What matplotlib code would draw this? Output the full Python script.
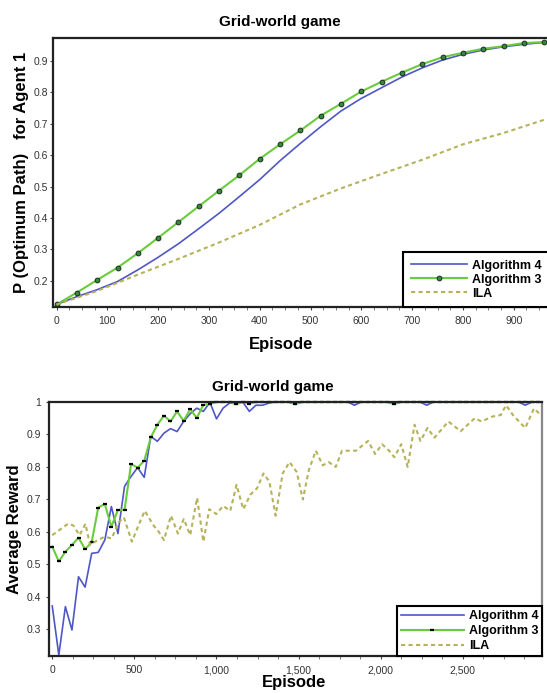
import numpy as np
import matplotlib
matplotlib.use('Agg')
import matplotlib.pyplot as plt
from matplotlib.ticker import MultipleLocator, FuncFormatter

plt.rcParams['font.family'] = ['Liberation Sans', 'DejaVu Sans']

BLUE = '#4f57c4'
GREEN = '#6acc3c'
OLIVE = '#b6b25a'

# ---- top panel: P(optimum path) for agent 1 ----
top_ep_alg3 = [0, 40, 80, 120, 160, 200, 240, 280, 320, 360, 400, 440, 480,
               520, 560, 600, 640, 680, 720, 760, 800, 840, 880, 920, 960]
top_alg3 = [0.125, 0.163, 0.203, 0.242, 0.288, 0.337, 0.387, 0.437, 0.487,
            0.536, 0.588, 0.634, 0.678, 0.725, 0.763, 0.802, 0.833, 0.862,
            0.889, 0.911, 0.925, 0.938, 0.946, 0.956, 0.959]
top_ep_alg4 = top_ep_alg3
top_alg4 = [0.125, 0.150, 0.172, 0.198, 0.235, 0.275, 0.318, 0.366, 0.415,
            0.468, 0.522, 0.582, 0.637, 0.690, 0.740, 0.780, 0.814, 0.848,
            0.877, 0.902, 0.920, 0.934, 0.944, 0.952, 0.958]
top_ep_ila = [0, 80, 160, 240, 320, 400, 480, 560, 640, 720, 800, 880, 960]
top_ila = [0.125, 0.168, 0.220, 0.270, 0.322, 0.378, 0.443, 0.494, 0.540,
           0.585, 0.634, 0.670, 0.712]

# ---- bottom panel: average reward ----
bot_ep = list(range(0, 2961, 40))
bot_alg3 = [0.555, 0.509, 0.539, 0.560, 0.582, 0.547, 0.568, 0.675, 0.686,
            0.616, 0.668, 0.668, 0.809, 0.798, 0.819, 0.891, 0.930, 0.958,
            0.940, 0.971, 0.942, 0.978, 0.951, 0.991, 0.994, 1.0, 1.0, 1.0,
            0.993, 1.0, 0.995, 1.0, 1.0, 1.0, 1.0, 1.0, 1.0, 0.993, 1.0, 1.0,
            1.0, 1.0, 1.0, 1.0, 1.0, 1.0, 1.0, 1.0, 1.0, 1.0, 1.0, 1.0,
            0.993, 1.0, 1.0, 1.0, 1.0, 1.0, 1.0, 1.0, 1.0, 1.0, 1.0, 1.0,
            1.0, 1.0, 1.0, 1.0, 1.0, 1.0, 1.0, 1.0, 1.0, 1.0, 1.0]
bot_alg4 = [0.372, 0.221, 0.370, 0.298, 0.462, 0.430, 0.534, 0.537, 0.575,
            0.678, 0.595, 0.740, 0.771, 0.798, 0.768, 0.894, 0.879, 0.904,
            0.918, 0.909, 0.940, 0.964, 0.981, 0.971, 0.999, 0.948, 0.981,
            0.997, 1.0, 1.0, 0.971, 0.990, 0.990, 0.997, 1.0, 1.0, 1.0, 0.995,
            1.0, 1.0, 1.0, 1.0, 1.0, 1.0, 1.0, 1.0, 0.990, 1.0, 1.0, 1.0,
            1.0, 1.0, 0.995, 1.0, 1.0, 1.0, 1.0, 0.990, 1.0, 1.0, 1.0, 1.0,
            1.0, 1.0, 1.0, 1.0, 1.0, 1.0, 1.0, 1.0, 1.0, 1.0, 0.990, 1.0, 1.0]
bot_ep_ila = [0, 96, 128, 166, 202, 230, 277, 319, 362, 404, 436, 485, 521,
              563, 617, 649, 680, 723, 765, 801, 840, 882, 920, 956, 999,
              1041, 1084, 1122, 1163, 1207, 1248, 1286, 1322, 1360, 1403,
              1445, 1488, 1526, 1562, 1605, 1647, 1683, 1726, 1764, 1849,
              1923, 1966, 2008, 2051, 2083, 2125, 2164, 2206, 2242, 2285,
              2327, 2412, 2487, 2572, 2614, 2678, 2731, 2763, 2805, 2880,
              2933, 2975]
bot_ila = [0.59, 0.625, 0.62, 0.59, 0.625, 0.56, 0.575, 0.585, 0.58, 0.63,
           0.645, 0.57, 0.615, 0.665, 0.62, 0.60, 0.575, 0.65, 0.595, 0.64,
           0.59, 0.705, 0.57, 0.67, 0.655, 0.68, 0.665, 0.745, 0.67, 0.715,
           0.735, 0.78, 0.755, 0.65, 0.78, 0.815, 0.785, 0.70, 0.79, 0.85,
           0.805, 0.815, 0.80, 0.85, 0.85, 0.88, 0.84, 0.87, 0.85, 0.83,
           0.87, 0.80, 0.93, 0.88, 0.92, 0.89, 0.94, 0.91, 0.95, 0.94, 0.955,
           0.96, 0.99, 0.96, 0.92, 0.98, 0.96]

W, H = 547, 693
fig = plt.figure(figsize=(W / 100, H / 100), dpi=100)


def px_axes(left, top, right, bottom):
    return fig.add_axes([left / W, 1 - bottom / H, (right - left) / W, (bottom - top) / H])


def style_axes(ax, ypad):
    for s in ax.spines.values():
        s.set_linewidth(1.6)
        s.set_color('#222222')
    ax.tick_params(axis='both', which='major', direction='out', length=2.5, width=0.8,
                   labelsize=7.5, labelcolor='#333333', color='#444444')
    ax.tick_params(axis='x', which='major', pad=4)
    ax.tick_params(axis='y', which='major', pad=ypad)
    ax.tick_params(axis='x', which='minor', direction='out', length=2, width=0.6, color='#666666')


def make_legend(ax, borderpad, labelspacing, handlelength):
    leg = ax.legend(loc='lower right', borderaxespad=0, fancybox=False, frameon=True,
                    prop={'weight': 'bold', 'size': 9}, handlelength=handlelength,
                    handletextpad=0.4, labelspacing=labelspacing, borderpad=borderpad,
                    numpoints=1)
    leg.get_frame().set_edgecolor('black')
    leg.get_frame().set_linewidth(1.5)
    leg.get_frame().set_alpha(1)
    return leg


# top axes
ax1 = px_axes(53, 38, 549, 307)
ax1.plot(top_ep_alg4, top_alg4, color=BLUE, lw=1.2, label='Algorithm 4')
ax1.plot(top_ep_alg3, top_alg3, color=GREEN, lw=1.5, marker='o', ms=3.5,
         mfc='#2e8b3a', mec='#1a1a1a', mew=0.6, label='Algorithm 3')
ax1.plot(top_ep_ila, top_ila, color=OLIVE, lw=1.5, ls=(0, (2.0, 1.6)), label='ILA')
ax1.set_xlim(-7, 969.5)
ax1.set_ylim(0.117, 0.972)
ax1.xaxis.set_major_locator(MultipleLocator(100))
ax1.xaxis.set_minor_locator(MultipleLocator(25))
ax1.yaxis.set_major_locator(MultipleLocator(0.1))
ax1.yaxis.set_major_formatter(FuncFormatter(lambda v, p: f'{v:g}'))
style_axes(ax1, ypad=1)
make_legend(ax1, borderpad=0.6, labelspacing=0.15, handlelength=4.5)

fig.text(280 / W, 1 - 22 / H, 'Grid-world game', ha='center', va='center',
         fontsize=11, fontweight='bold')
fig.text(281 / W, 1 - 345 / H, 'Episode', ha='center', va='center',
         fontsize=12, fontweight='bold')
fig.text(22 / W, 1 - 172 / H, 'P (Optimum Path)   for Agent 1', ha='center', va='center',
         rotation=90, fontsize=12, fontweight='bold')

# bottom axes
ax2 = px_axes(48.8, 402, 542, 656)
ax2.plot(bot_ep, bot_alg4, color=BLUE, lw=1.2, label='Algorithm 4', clip_on=False)
ax2.plot(bot_ep, bot_alg3, color=GREEN, lw=1.5, marker='_', ms=3.5, mec='black',
         mew=1.6, label='Algorithm 3', clip_on=False)
ax2.plot(bot_ep_ila, bot_ila, color=OLIVE, lw=1.5, ls=(0, (2.0, 1.6)), label='ILA')
ax2.set_xlim(-21, 2982)
ax2.set_ylim(0.218, 1.0)
ax2.xaxis.set_major_locator(MultipleLocator(500))
ax2.xaxis.set_minor_locator(MultipleLocator(125))
ax2.xaxis.set_major_formatter(FuncFormatter(lambda v, p: f'{int(v):,}'))
ax2.yaxis.set_major_locator(MultipleLocator(0.1))
ax2.yaxis.set_major_formatter(FuncFormatter(lambda v, p: f'{round(v, 2):g}'))
style_axes(ax2, ypad=3)
ax2.spines['right'].set_color('#888888')
make_legend(ax2, borderpad=0.3, labelspacing=0.25, handlelength=5.0)

fig.text(273 / W, 1 - 387 / H, 'Grid-world game', ha='center', va='center',
         fontsize=11, fontweight='bold')
fig.text(294 / W, 1 - 683 / H, 'Episode', ha='center', va='center',
         fontsize=12, fontweight='bold')
fig.text(15 / W, 1 - 529 / H, 'Average Reward', ha='center', va='center',
         rotation=90, fontsize=12, fontweight='bold')

fig.savefig('out.png', dpi=100)
